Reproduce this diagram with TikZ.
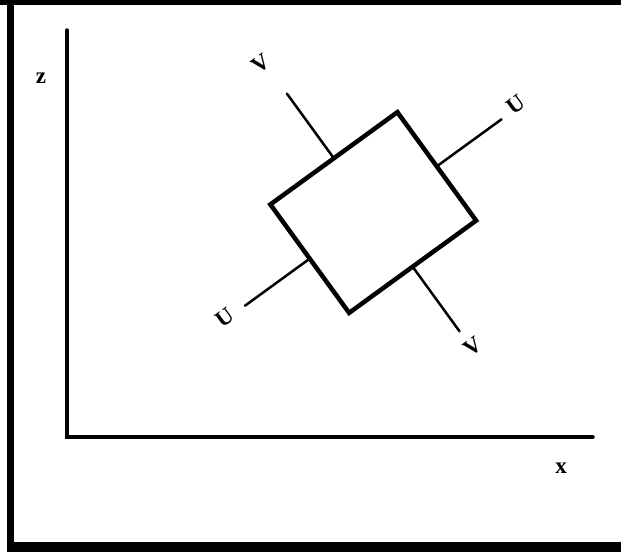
\documentclass[tikz,border=0pt]{standalone}
\usepackage{fontspec}
\setmainfont{Liberation Serif}
\begin{document}
\begin{tikzpicture}[x=1pt,y=-1pt,
  frame/.style={fill=black,draw=none},
  axis/.style={line width=3.5pt,line cap=round},
  boxstyle/.style={draw,line width=4.5pt,line join=miter,rectangle,minimum width=157pt,minimum height=134pt,inner sep=0pt,rotate=36},
  conn/.style={line width=2.5pt,line cap=round},
  lbl/.style={font=\fontsize{23}{23}\selectfont\bfseries,inner sep=0pt,rotate=36},
  axlbl/.style={font=\fontsize{23}{23}\selectfont\bfseries,inner sep=0pt}]
\useasboundingbox (0,0) rectangle (621,552);
\fill[white] (0,0) rectangle (621,552);
% frame
\fill[frame] (0,0) rectangle (621,5);
\fill[frame] (7,0) rectangle (14,552);
\fill[frame] (7,542) rectangle (621,552);
% axes
\coordinate (ztop) at (67,30);
\coordinate (origin) at (67,437);
\coordinate (xend) at (593,437);
\draw[axis] (ztop) -- (origin) -- (xend);
\node[axlbl] (zl) at (41,78) {z};
\node[axlbl] (xl) at (561,468) {x};
% box
\node[boxstyle] (box) at (373.25,212.5) {};
% connector ends
\coordinate (vt) at (286.9,93.6);
\coordinate (ue) at (501.5,119.3);
\coordinate (uw) at (245,305.7);
\coordinate (vb) at (459.6,331.4);
\draw[conn] (box.north) -- (vt);
\draw[conn] (box.east) -- (ue);
\draw[conn] (box.west) -- (uw);
\draw[conn] (box.south) -- (vb);
% labels
\node[lbl] (lvt) at (261,64) {V};
\node[lbl] (lue) at (516,105) {U};
\node[lbl] (luw) at (225,318) {U};
\node[lbl] (lvb) at (473,347) {V};
\end{tikzpicture}
\end{document}
